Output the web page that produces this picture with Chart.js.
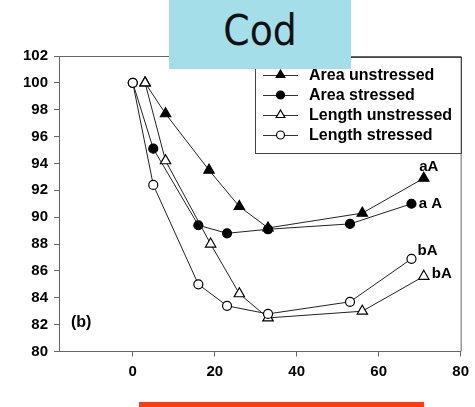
<!DOCTYPE html>
<html>
<head>
<meta charset="utf-8">
<script src="https://cdn.jsdelivr.net/npm/chart.js@4.4.1/dist/chart.umd.min.js"></script>
<style>
  body { margin: 0; background: #fff; }
  #wrap { position: relative; width: 475px; height: 407px; overflow: hidden; }
  #grafico { position: absolute; left: 0; top: 0; }
  #titulo { position: absolute; left: 169px; top: 0; width: 182px; height: 69px; background: #a4dee9;
            text-align: center; font-family: "Liberation Sans Narrow", "DejaVu Sans Condensed", sans-serif;
            font-size: 42px; line-height: 61px; color: #111; }
  #corte { position: absolute; left: 0; top: 376px; width: 475px; height: 26px; background: #fff; }
  #barra { position: absolute; left: 139px; top: 402px; width: 285px; height: 5px; background: #ff3b10; }
</style>
</head>
<body>
<div id="wrap">
  <canvas id="grafico" width="475" height="407"></canvas>
  <div id="corte"></div>
  <div id="barra"></div>
  <div id="titulo">Cod</div>
</div>
<script>
// dados
const series = ["Area unstressed", "Area stressed", "Length unstressed", "Length stressed"];

const xAreaUnstressed = [3, 8, 18.6, 26, 33, 56, 71];
const yAreaUnstressed = [100, 97.7, 93.5, 90.8, 89.2, 90.3, 92.9];

const xAreaStressed = [0, 5, 16, 23, 33, 53, 68];
const yAreaStressed = [100, 95.1, 89.4, 88.8, 89.1, 89.5, 91.0];

const xLengthUnstressed = [3, 8, 19, 26, 33, 56, 71];
const yLengthUnstressed = [100, 94.2, 88.0, 84.3, 82.5, 83.0, 85.6];

const xLengthStressed = [0, 5, 16, 23, 33, 53, 68];
const yLengthStressed = [100, 92.4, 85.0, 83.4, 82.8, 83.7, 86.9];

const letras = ["aA", "a A", "bA", "bA"];
const xTicks = [0, 20, 40, 60, 80];

function pares(xs, ys) {
  return xs.map((x, i) => ({ x: x, y: ys[i] }));
}

const fonteEixo = { family: "'Liberation Sans', Arial, sans-serif", size: 15, weight: "bold" };

const estilos = [
  { forma: "triangle", cheio: true, raio: 6 },
  { forma: "circle", cheio: true, raio: 4.5 },
  { forma: "triangle", cheio: false, raio: 6 },
  { forma: "circle", cheio: false, raio: 4.5 }
];

function fazDataset(i, dados, ordem) {
  const e = estilos[i];
  return {
    label: series[i],
    data: dados,
    order: ordem,
    borderColor: "#222",
    borderWidth: 1,
    pointStyle: e.forma,
    pointRadius: e.raio,
    pointHoverRadius: e.raio,
    pointBackgroundColor: e.cheio ? "#000" : "#fff",
    pointBorderColor: "#000",
    pointBorderWidth: 1.2,
    tension: 0,
    fill: false
  };
}

function marcador(ctx, i, x, y) {
  const e = estilos[i];
  const r = e.forma === "triangle" ? 5 : 4;
  ctx.beginPath();
  if (e.forma === "triangle") {
    ctx.moveTo(x, y - r);
    ctx.lineTo(x + r * 0.866, y + r * 0.5);
    ctx.lineTo(x - r * 0.866, y + r * 0.5);
    ctx.closePath();
  } else {
    ctx.arc(x, y, r, 0, Math.PI * 2);
  }
  ctx.fillStyle = e.cheio ? "#000" : "#fff";
  ctx.fill();
  ctx.strokeStyle = "#000";
  ctx.lineWidth = 1.2;
  ctx.stroke();
}

// moldura, legenda e letras
const extras = {
  id: "extras",
  afterDraw(chart) {
    const ctx = chart.ctx;
    const a = chart.chartArea;
    ctx.save();
    ctx.strokeStyle = "#666";
    ctx.lineWidth = 1;
    ctx.beginPath();
    ctx.moveTo(a.left, a.top + 0.5);
    ctx.lineTo(a.right + 0.5, a.top + 0.5);
    ctx.lineTo(a.right + 0.5, a.bottom);
    ctx.stroke();

    // legenda
    ctx.strokeStyle = "#444";
    ctx.strokeRect(255.5, 57.5, 206, 96);
    ctx.font = "bold 16px 'Liberation Sans', Arial, sans-serif";
    ctx.textBaseline = "middle";
    ctx.textAlign = "left";
    series.forEach((nome, i) => {
      const y = 75 + i * 20;
      ctx.strokeStyle = "#333";
      ctx.lineWidth = 1;
      ctx.beginPath();
      ctx.moveTo(263, y + 0.5);
      ctx.lineTo(298, y + 0.5);
      ctx.stroke();
      marcador(ctx, i, 280.5, y);
      ctx.fillStyle = "#000";
      ctx.fillText(nome, 309, y + 1);
    });

    // letras no fim de cada serie
    const desloc = [[5, -11], [19, 0], [18, -2], [16, -8]];
    ctx.font = "bold 15px 'Liberation Sans', Arial, sans-serif";
    ctx.textAlign = "center";
    [0, 1, 2, 3].forEach(i => {
      const ds = chart.data.datasets.find(d => d.label === series[i]);
      const ult = ds.data[ds.data.length - 1];
      const px = chart.scales.x.getPixelForValue(ult.x);
      const py = chart.scales.y.getPixelForValue(ult.y);
      ctx.fillText(letras[i], px + desloc[i][0], py + desloc[i][1]);
    });

    ctx.font = "bold 16px 'Liberation Sans', Arial, sans-serif";
    ctx.textAlign = "left";
    ctx.fillText("(b)", a.left + 12, a.bottom - 29);
    ctx.restore();
  }
};

const graficoCod = new Chart(document.querySelector("#grafico"), {
  type: "line",
  data: {
    datasets: [
      fazDataset(0, pares(xAreaUnstressed, yAreaUnstressed), 3),
      fazDataset(1, pares(xAreaStressed, yAreaStressed), 2),
      fazDataset(2, pares(xLengthUnstressed, yLengthUnstressed), 1),
      fazDataset(3, pares(xLengthStressed, yLengthStressed), 0)
    ]
  },
  options: {
    responsive: false,
    animation: false,
    layout: { padding: { top: 56, right: 8.5, left: 0, bottom: 0 } },
    plugins: { legend: { display: false }, tooltip: { enabled: false } },
    scales: {
      x: {
        type: "linear",
        min: -18,
        max: 80,
        afterBuildTicks: s => { s.ticks = xTicks.map(v => ({ value: v })); },
        afterFit: s => { s.height = 55.5; },
        grid: { drawOnChartArea: false, tickLength: 5, color: "#666" },
        border: { color: "#666", width: 1 },
        ticks: { font: fonteEixo, color: "#000", padding: 6, maxRotation: 0 }
      },
      y: {
        min: 80,
        max: 102,
        afterFit: s => { s.width = 59; },
        grid: { drawOnChartArea: false, tickLength: 5, color: "#666" },
        border: { color: "#666", width: 1 },
        ticks: { stepSize: 2, font: fonteEixo, color: "#000", padding: 6 }
      }
    }
  },
  plugins: [extras]
});
</script>
</body>
</html>
